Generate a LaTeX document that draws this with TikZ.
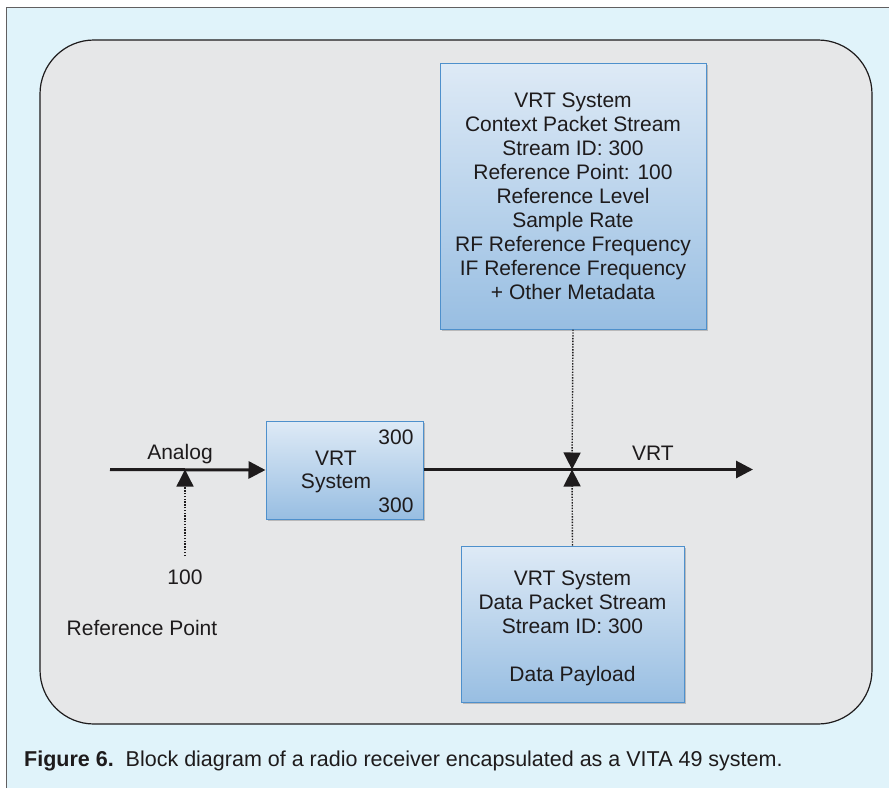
\documentclass[tikz,border=0pt]{standalone}
\usepackage{fontspec}
\setmainfont{Liberation Sans}
\usetikzlibrary{arrows.meta,shadows}
\definecolor{pagebg}{RGB}{224,243,250}
\definecolor{panelbg}{RGB}{230,231,232}
\definecolor{boxtop}{RGB}{222,234,246}
\definecolor{boxbot}{RGB}{152,190,226}
\definecolor{boxedge}{RGB}{78,144,204}
\definecolor{ink}{RGB}{30,27,28}
\tikzset{
  block/.style={draw=boxedge, line width=1pt, top color=boxtop, bottom color=boxbot,
    align=center, text=ink, font=\fontsize{21}{24}\selectfont, inner sep=0pt,
    drop shadow={shadow xshift=1.5pt, shadow yshift=-2pt, opacity=0.35, fill=black!60}},
  label text/.style={text=ink, font=\fontsize{21}{24}\selectfont, inner sep=0pt, align=center},
  signal/.style={draw=ink, line width=3pt, -{Triangle[length=17pt,width=17pt]}},
  feed/.style={draw=ink, line width=1.4pt, dash pattern=on 1.4pt off 1.4pt,
    -{Triangle[length=17pt,width=17pt]}}
}
\begin{document}
\begin{tikzpicture}[x=1pt,y=-1pt]
\useasboundingbox (0,0) rectangle (889,788);
% page background and frame
\fill[white] (0,0) rectangle (889,788);
\fill[pagebg] (6,7) rectangle (889,788);
\draw[ink!70, line width=1pt] (6,788) -- (6,7) -- (889,7);
% rounded panel
\draw[fill=panelbg, draw=ink, line width=1.2pt, rounded corners=54pt] (40,40) rectangle (872,724);

% blocks
\node[block, minimum width=266pt, minimum height=266pt] (ctx) at (573,196)
  {VRT System\\Context Packet Stream\\Stream ID: 300\\Reference Point: 100\\Reference Level\\Sample Rate\\RF Reference Frequency\\IF Reference Frequency\\+ Other Metadata};
\node[block, minimum width=157pt, minimum height=98pt] (vrt) at (344.5,470) {};
\node[label text] (vrttxt) at (336,472) {VRT\\[-1pt]System};
\node[label text] (ida) at (396,437) {300};
\node[label text] (idb) at (396,505) {300};
\node[block, minimum width=223pt, minimum height=156pt] (data) at (572.5,624) {};
\node[label text] (datatxt) at (572.5,628)
  {VRT System\\Data Packet Stream\\Stream ID: 300\\ \\Data Payload};

% signal path
\coordinate (in) at (110,469.5);
\coordinate (join) at (572,469.5);
\coordinate (out) at (753,469.5);
\coordinate (ref) at (185,469.5);
\coordinate (refsrc) at (185,556);
\draw[signal] (in) -- (vrt.west);
\draw[draw=ink, line width=3pt] (vrt.east |- join) -- (join);
\draw[signal] (join) -- (out);
\draw[feed] (refsrc) -- (ref);
\draw[feed] (ctx.south) -- (join);
\draw[feed] (data.north) -- (join);

% labels
\node[label text] (analog) at (180,454) {Analog};
\node[label text] (vrtlbl) at (653,453) {VRT};
\node[label text] (hundred) at (185,577) {100};
\node[label text] (refpt) at (142,628) {Reference Point};

% caption
\node[anchor=west, text=ink, inner sep=0pt, font=\fontsize{21.5}{24}\selectfont] (cap) at (24,761)
  {\textbf{Figure 6.}\ \ Block diagram of a radio receiver encapsulated as a VITA 49 system.};
\end{tikzpicture}
\end{document}
